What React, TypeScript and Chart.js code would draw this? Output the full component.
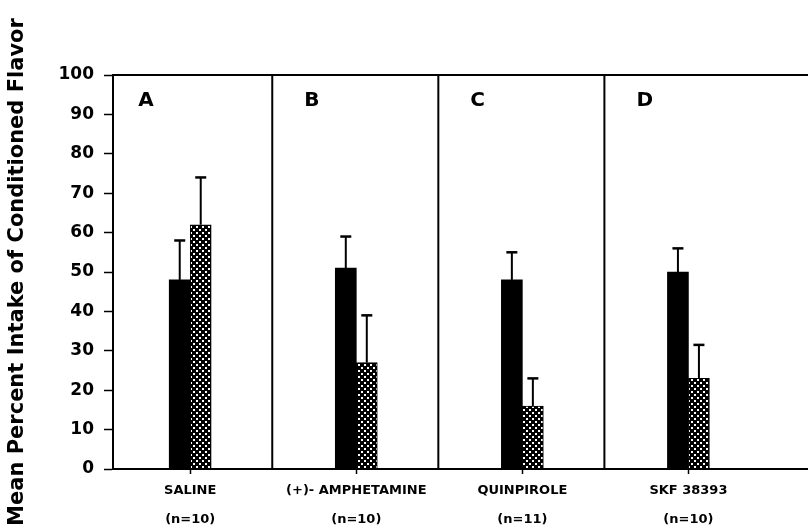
import React, { useEffect, useRef } from 'react';
import { Chart, registerables } from 'chart.js';

Chart.register(...registerables);

const categories = ['SALINE', '(+)- AMPHETAMINE', 'QUINPIROLE', 'SKF 38393'];
const groupSizes = ['(n=10)', '(n=10)', '(n=11)', '(n=10)'];
const panelLetters = ['A', 'B', 'C', 'D'];
const positions = [0, 1, 2, 3];
const solidMeans = [48, 51, 48, 50];
const solidErrors = [10, 8, 7, 6];
const hatchedMeans = [62, 27, 16, 23];
const hatchedErrors = [12, 12, 7, 8.5];
const yTicks = [0, 10, 20, 30, 40, 50, 60, 70, 80, 90, 100];
const yTitle = 'Mean Percent Intake of Conditioned Flavor';

const FONT = "'DejaVu Sans', sans-serif";

function makePattern(): CanvasPattern | string {
  const c = document.createElement('canvas');
  c.width = 6;
  c.height = 6;
  const g = c.getContext('2d');
  if (!g) return '#333';
  g.fillStyle = '#000';
  g.fillRect(0, 0, 6, 6);
  g.fillStyle = '#fff';
  g.fillRect(1, 1, 2, 2);
  g.fillRect(4, 4, 2, 2);
  const p = g.createPattern(c, 'repeat');
  return p || '#333';
}

const overlayPlugin = {
  id: 'overlay',
  afterDatasetsDraw(chart: any) {
    const { ctx, chartArea, scales } = chart;
    const x = scales.x;
    const y = scales.y;
    ctx.save();
    ctx.strokeStyle = '#000';
    ctx.lineCap = 'butt';
    // error bars
    const sets = [
      { means: solidMeans, errs: solidErrors },
      { means: hatchedMeans, errs: hatchedErrors },
    ];
    sets.forEach((s, di) => {
      const meta = chart.getDatasetMeta(di);
      meta.data.forEach((bar: any, i: number) => {
        const base = y.getPixelForValue(s.means[i]);
        const top = y.getPixelForValue(s.means[i] + s.errs[i]);
        ctx.lineWidth = 2;
        ctx.beginPath();
        ctx.moveTo(bar.x, base);
        ctx.lineTo(bar.x, top);
        ctx.stroke();
        ctx.lineWidth = 2.5;
        ctx.beginPath();
        ctx.moveTo(bar.x - 5.5, top);
        ctx.lineTo(bar.x + 5.5, top);
        ctx.stroke();
      });
    });
    // panel dividers
    ctx.lineWidth = 2;
    for (let i = 0; i < positions.length - 1; i++) {
      const px = x.getPixelForValue(positions[i] + 0.5) - 1;
      ctx.beginPath();
      ctx.moveTo(px, chartArea.top);
      ctx.lineTo(px, chartArea.bottom);
      ctx.stroke();
    }
    // top border
    ctx.beginPath();
    ctx.moveTo(chartArea.left, chartArea.top);
    ctx.lineTo(chartArea.right, chartArea.top);
    ctx.stroke();
    // panel letters
    ctx.fillStyle = '#000';
    ctx.font = `bold 20px ${FONT}`;
    ctx.textAlign = 'left';
    ctx.textBaseline = 'middle';
    panelLetters.forEach((t, i) => {
      const px = x.getPixelForValue(positions[i] - 0.5) + 31;
      ctx.fillText(t, px, chartArea.top + 26);
    });
    ctx.restore();
  },
};

export default function App() {
  const ref = useRef<HTMLCanvasElement>(null);
  useEffect(() => {
    if (!ref.current) return;
    const pattern = makePattern();
    const chart = new Chart(ref.current, {
      type: 'bar',
      data: {
        datasets: [
          {
            label: 'Solid',
            data: positions.map((p, i) => ({ x: p, y: solidMeans[i] })),
            backgroundColor: '#000',
            borderColor: '#000',
            borderWidth: 0,
            barThickness: 21,
          },
          {
            label: 'Hatched',
            data: positions.map((p, i) => ({ x: p, y: hatchedMeans[i] })),
            backgroundColor: pattern as any,
            borderColor: '#000',
            borderWidth: 1,
            barThickness: 21,
          },
        ],
      },
      options: {
        responsive: false,
        animation: false,
        layout: { padding: { top: 75, left: 0, right: 0, bottom: 0 } },
        plugins: {
          legend: { display: false },
          tooltip: { enabled: false },
        },
        scales: {
          x: {
            type: 'linear',
            min: -0.465,
            max: 3.72,
            offset: false,
            afterBuildTicks: (s: any) => {
              s.ticks = positions.map((v) => ({ value: v }));
            },
            afterFit: (s: any) => {
              s.height = 61;
            },
            ticks: {
              autoSkip: false,
              maxRotation: 0,
              minRotation: 0,
              padding: 2,
              color: '#000',
              font: { family: FONT, weight: 'bold', size: 13, lineHeight: 2.23 },
              callback: (v: any) => {
                const i = positions.indexOf(Number(v));
                return i >= 0 ? [categories[i], groupSizes[i]] : '';
              },
            },
            grid: {
              offset: false,
              drawOnChartArea: false,
              tickLength: 5,
              tickColor: '#000',
              tickWidth: 1.5,
            },
            border: { color: '#000', width: 2 },
          },
          y: {
            type: 'linear',
            min: 0,
            max: 100,
            afterBuildTicks: (s: any) => {
              s.ticks = yTicks.map((v) => ({ value: v }));
            },
            afterFit: (s: any) => {
              s.width = 113;
            },
            ticks: {
              padding: 10,
              color: '#000',
              font: { family: FONT, weight: 'bold', size: 17 },
            },
            grid: {
              drawOnChartArea: false,
              tickLength: 9,
              tickColor: '#000',
              tickWidth: 1.5,
            },
            border: { color: '#000', width: 2 },
            title: {
              display: true,
              text: yTitle,
              color: '#000',
              font: { family: FONT, weight: 'bold', size: 21 },
              padding: { top: 5, bottom: 0 },
            },
          },
        },
      } as any,
      plugins: [overlayPlugin],
    });
    return () => chart.destroy();
  }, []);
  return (
    <div style={{ position: 'absolute', left: 0, top: 0, width: 808, height: 530, background: '#fff' }}>
      <canvas ref={ref} width={808} height={530} style={{ display: 'block' }} />
    </div>
  );
}
